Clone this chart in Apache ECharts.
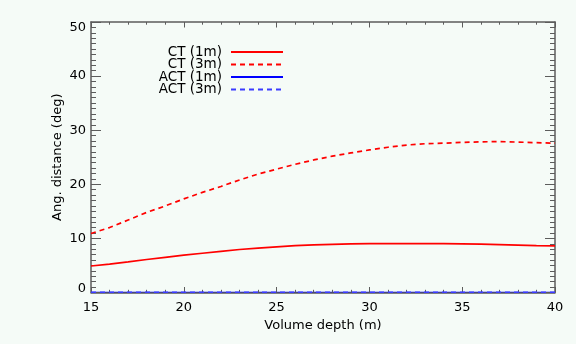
<!DOCTYPE html>
<html>
<head>
<meta charset="utf-8">
<script src="https://cdn.jsdelivr.net/npm/echarts@6/dist/echarts.min.js"></script>
<style>
html,body{margin:0;padding:0;background:#f5fbf7;}
#c{width:576px;height:344px;}
</style>
</head>
<body>
<div id="c"></div>
<script>
var depths = [15,16,17,18,19,20,21,22,23,24,25,26,27,28,29,30,31,32,33,34,35,36,37,38,39,40];
var ct1m = [4.9,5.25,5.65,6.1,6.5,6.9,7.25,7.6,7.95,8.2,8.45,8.65,8.8,8.9,9.0,9.05,9.05,9.05,9.05,9.05,9.0,8.95,8.85,8.75,8.65,8.6];
var ct3m = [10.9,12.0,13.4,14.8,16.0,17.3,18.5,19.6,20.8,21.9,22.8,23.7,24.5,25.2,25.8,26.35,26.85,27.25,27.5,27.6,27.75,27.85,27.9,27.8,27.7,27.6];
var act1m = [0,0,0,0,0,0,0,0,0,0,0,0,0,0,0,0,0,0,0,0,0,0,0,0,0,0];
var act3m = [0.05,0.05,0.05,0.05,0.05,0.05,0.05,0.05,0.05,0.05,0.05,0.05,0.05,0.05,0.05,0.05,0.05,0.05,0.05,0.05,0.05,0.05,0.05,0.05,0.05,0.05];
var seriesNames = ['CT (1m)','CT (3m)','ACT (1m)','ACT (3m)'];

function pairs(ys){ return depths.map(function(x,i){ return [x, ys[i]]; }); }

var axisCol = '#5c5c5c';
var font = 'DejaVu Sans';
function xAx(pos, showLabel){
  return {
    type:'value', position:pos, min:15, max:40, interval:5, z:1,
    axisLine:{show:true, onZero:false, lineStyle:{color:axisCol, width:1.5}},
    axisTick:{show:true, inside:true, length:5.5, lineStyle:{color:axisCol, width:1}},
    minorTick:{show:true, splitNumber:5, length:2.7, lineStyle:{color:axisCol, width:1}},
    splitLine:{show:false},
    axisLabel:{show:showLabel, color:'#000', fontFamily:font, fontSize:13, margin:9},
    name: showLabel ? 'Volume depth (m)' : '',
    nameLocation:'middle', nameGap:27, nameMoveOverlap:false,
    nameTextStyle:{color:'#000', fontFamily:font, fontSize:13}
  };
}
function yAx(pos, showLabel){
  return {
    type:'value', position:pos, min:0, max:50, interval:10, z:1,
    axisLine:{show:true, onZero:false, lineStyle:{color:axisCol, width:1.5}},
    axisTick:{show:true, inside:true, length:10, lineStyle:{color:axisCol, width:1}},
    minorTick:{show:true, splitNumber:10, length:5, lineStyle:{color:axisCol, width:1}},
    splitLine:{show:false},
    axisLabel:{show:showLabel, color:'#000', fontFamily:font, fontSize:13, margin:5,
      formatter:function(v){
        if(v===0) return '{lo|0}';
        if(v===50) return '{hi|50}';
        return String(v);
      },
      rich:{
        lo:{color:'#000', fontFamily:font, fontSize:13, padding:[0,0,7,0]},
        hi:{color:'#000', fontFamily:font, fontSize:13, padding:[12,0,0,0]}
      }
    },
    name: showLabel ? 'Ang. distance (deg)' : '',
    nameLocation:'middle', nameGap:27, nameMoveOverlap:false,
    nameTextStyle:{color:'#000', fontFamily:font, fontSize:13}
  };
}

var chart = echarts.init(document.getElementById('c'), null, {renderer:'canvas'});
chart.setOption({
  backgroundColor:'#f5fbf7',
  animation:false,
  grid:{left:91, right:21, top:22, bottom:51.5, containLabel:false},
  xAxis:[xAx('bottom', true), xAx('top', false)],
  yAxis:[yAx('left', true), yAx('right', false)],
  legend:{
    orient:'vertical', left:148, top:45, padding:0, itemGap:-1.5,
    align:'right', itemWidth:52, itemHeight:10,
    itemStyle:{opacity:0},
    data:seriesNames,
    textStyle:{color:'#000', fontFamily:font, fontSize:13.5, width:74, lineHeight:12, padding:[0,4,0,0]}
  },
  series:[
    {name:seriesNames[0], type:'line', data:pairs(ct1m), symbol:'none', z:3,
      lineStyle:{color:'#ff0000', width:1.7, type:'solid'}, itemStyle:{color:'#ff0000'}},
    {name:seriesNames[1], type:'line', data:pairs(ct3m), symbol:'none', z:3,
      lineStyle:{color:'#ff0000', width:1.7, type:[5,4]}, itemStyle:{color:'#ff0000'}},
    {name:seriesNames[2], type:'line', data:pairs(act1m), symbol:'none', z:0,
      lineStyle:{color:'#0000ff', width:1.7, type:'solid'}, itemStyle:{color:'#0000ff'}},
    {name:seriesNames[3], type:'line', data:pairs(act3m), symbol:'none', z:3,
      lineStyle:{color:'#3b3bff', width:1.7, type:[5,4]}, itemStyle:{color:'#3b3bff'}}
  ]
});
</script>
</body>
</html>
